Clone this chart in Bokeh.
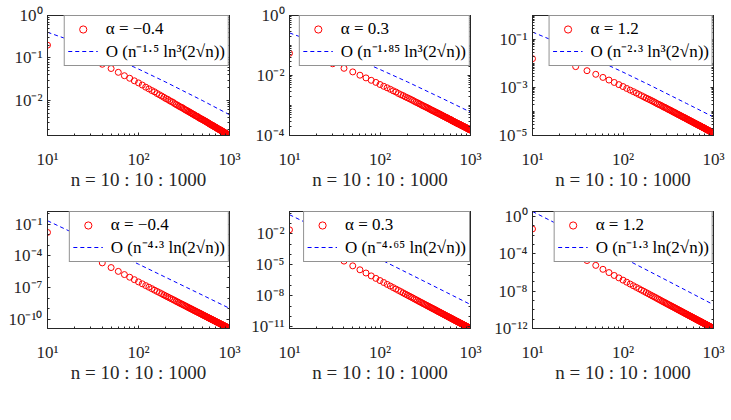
from bokeh.plotting import figure
from bokeh.models import Range1d, FixedTicker, CustomJSTickFormatter, LogAxis
from bokeh.layouts import column, row
from bokeh.embed import file_html
from bokeh.resources import INLINE

# ---------------- data (log10 of the plotted values) ----------------
n_values = list(range(10, 1001, 10))          # n = 10:10:1000
dash_n = [10, 20, 50, 100, 200, 500, 1000]

alpha_labels = ["α = −0.4", "α = 0.3", "α = 1.2", "α = −0.4", "α = 0.3", "α = 1.2"]
order_labels = ["O (n⁻¹·⁵ ln³(2√n))", "O (n⁻¹·⁸⁵ ln³(2√n))", "O (n⁻²·³ ln³(2√n))",
                "O (n⁻⁴·³ ln(2√n))", "O (n⁻⁴·⁶⁵ ln(2√n))", "O (n⁻¹·³ ln(2√n))"]
x_label = "n = 10 : 10 : 1000"

err1_log = [-0.70, -0.87, -1.03, -1.15, -1.25, -1.34, -1.42, -1.48, -1.54, -1.59,
            -1.64, -1.69, -1.73, -1.77, -1.80, -1.84, -1.87, -1.90, -1.93, -1.96,
            -1.98, -2.01, -2.03, -2.05, -2.08, -2.10, -2.12, -2.14, -2.16, -2.17,
            -2.19, -2.21, -2.23, -2.24, -2.26, -2.27, -2.29, -2.30, -2.32, -2.33,
            -2.34, -2.36, -2.37, -2.38, -2.39, -2.41, -2.42, -2.43, -2.44, -2.45,
            -2.46, -2.47, -2.48, -2.49, -2.50, -2.51, -2.52, -2.53, -2.54, -2.55,
            -2.56, -2.57, -2.58, -2.59, -2.59, -2.60, -2.61, -2.62, -2.63, -2.63,
            -2.64, -2.65, -2.66, -2.67, -2.67, -2.68, -2.69, -2.69, -2.70, -2.71,
            -2.71, -2.72, -2.73, -2.73, -2.74, -2.75, -2.75, -2.76, -2.77, -2.77,
            -2.78, -2.78, -2.79, -2.80, -2.80, -2.81, -2.81, -2.82, -2.82, -2.83]
err2_log = [-1.26, -1.43, -1.61, -1.76, -1.88, -1.99, -2.08, -2.16, -2.23, -2.30,
            -2.36, -2.41, -2.46, -2.51, -2.55, -2.60, -2.64, -2.67, -2.71, -2.74,
            -2.77, -2.80, -2.83, -2.86, -2.89, -2.91, -2.94, -2.96, -2.99, -3.01,
            -3.03, -3.05, -3.07, -3.09, -3.11, -3.13, -3.15, -3.17, -3.18, -3.20,
            -3.22, -3.23, -3.25, -3.26, -3.28, -3.29, -3.31, -3.32, -3.34, -3.35,
            -3.36, -3.38, -3.39, -3.40, -3.41, -3.43, -3.44, -3.45, -3.46, -3.47,
            -3.48, -3.50, -3.51, -3.52, -3.53, -3.54, -3.55, -3.56, -3.57, -3.58,
            -3.59, -3.60, -3.61, -3.62, -3.62, -3.63, -3.64, -3.65, -3.66, -3.67,
            -3.68, -3.68, -3.69, -3.70, -3.71, -3.72, -3.72, -3.73, -3.74, -3.75,
            -3.75, -3.76, -3.77, -3.78, -3.78, -3.79, -3.80, -3.81, -3.81, -3.82]
err3_log = [-1.80, -1.93, -2.13, -2.30, -2.45, -2.58, -2.69, -2.79, -2.88, -2.96,
            -3.04, -3.11, -3.17, -3.23, -3.29, -3.34, -3.39, -3.44, -3.48, -3.52,
            -3.56, -3.60, -3.64, -3.68, -3.71, -3.74, -3.77, -3.81, -3.83, -3.86,
            -3.89, -3.92, -3.94, -3.97, -3.99, -4.02, -4.04, -4.06, -4.09, -4.11,
            -4.13, -4.15, -4.17, -4.19, -4.21, -4.23, -4.25, -4.26, -4.28, -4.30,
            -4.32, -4.33, -4.35, -4.37, -4.38, -4.40, -4.41, -4.43, -4.44, -4.46,
            -4.47, -4.49, -4.50, -4.51, -4.53, -4.54, -4.55, -4.57, -4.58, -4.59,
            -4.60, -4.61, -4.63, -4.64, -4.65, -4.66, -4.67, -4.68, -4.69, -4.71,
            -4.72, -4.73, -4.74, -4.75, -4.76, -4.77, -4.78, -4.79, -4.80, -4.81,
            -4.82, -4.83, -4.84, -4.85, -4.86, -4.86, -4.87, -4.88, -4.89, -4.90]
err4_log = [-1.79, -3.27, -4.09, -4.66, -5.10, -5.46, -5.76, -6.01, -6.24, -6.45,
            -6.63, -6.80, -6.95, -7.09, -7.23, -7.35, -7.46, -7.57, -7.68, -7.78,
            -7.87, -7.96, -8.04, -8.12, -8.20, -8.28, -8.35, -8.42, -8.49, -8.55,
            -8.61, -8.67, -8.73, -8.79, -8.84, -8.90, -8.95, -9.00, -9.05, -9.10,
            -9.15, -9.19, -9.24, -9.28, -9.32, -9.36, -9.40, -9.44, -9.48, -9.52,
            -9.56, -9.60, -9.63, -9.67, -9.70, -9.74, -9.77, -9.80, -9.84, -9.87,
            -9.90, -9.93, -9.96, -9.99, -10.02, -10.05, -10.08, -10.11, -10.13, -10.16,
            -10.19, -10.22, -10.24, -10.27, -10.29, -10.32, -10.34, -10.37, -10.39, -10.42,
            -10.44, -10.46, -10.49, -10.51, -10.53, -10.55, -10.58, -10.60, -10.62, -10.64,
            -10.66, -10.68, -10.70, -10.72, -10.74, -10.76, -10.78, -10.80, -10.82, -10.84]
err5_log = [-1.62, -3.17, -4.04, -4.64, -5.10, -5.48, -5.79, -6.07, -6.31, -6.52,
            -6.71, -6.89, -7.05, -7.20, -7.34, -7.47, -7.59, -7.71, -7.82, -7.92,
            -8.02, -8.11, -8.20, -8.29, -8.37, -8.45, -8.53, -8.60, -8.67, -8.74,
            -8.80, -8.87, -8.93, -8.99, -9.05, -9.10, -9.16, -9.21, -9.26, -9.31,
            -9.36, -9.41, -9.46, -9.51, -9.55, -9.59, -9.64, -9.68, -9.72, -9.76,
            -9.80, -9.84, -9.88, -9.92, -9.95, -9.99, -10.02, -10.06, -10.09, -10.13,
            -10.16, -10.19, -10.22, -10.26, -10.29, -10.32, -10.35, -10.38, -10.41, -10.44,
            -10.46, -10.49, -10.52, -10.55, -10.57, -10.60, -10.63, -10.65, -10.68, -10.70,
            -10.73, -10.75, -10.78, -10.80, -10.82, -10.85, -10.87, -10.89, -10.92, -10.94,
            -10.96, -10.98, -11.00, -11.03, -11.05, -11.07, -11.09, -11.11, -11.13, -11.15]
err6_log = [-1.34, -3.08, -4.05, -4.72, -5.24, -5.66, -6.01, -6.32, -6.58, -6.82,
            -7.04, -7.24, -7.42, -7.59, -7.74, -7.89, -8.02, -8.15, -8.27, -8.39,
            -8.50, -8.60, -8.70, -8.80, -8.89, -8.98, -9.07, -9.15, -9.23, -9.30,
            -9.38, -9.45, -9.52, -9.58, -9.65, -9.71, -9.77, -9.83, -9.89, -9.95,
            -10.00, -10.06, -10.11, -10.16, -10.21, -10.26, -10.31, -10.36, -10.40, -10.45,
            -10.49, -10.54, -10.58, -10.62, -10.66, -10.70, -10.74, -10.78, -10.82, -10.86,
            -10.89, -10.93, -10.97, -11.00, -11.04, -11.07, -11.10, -11.14, -11.17, -11.20,
            -11.23, -11.26, -11.29, -11.33, -11.36, -11.39, -11.41, -11.44, -11.47, -11.50,
            -11.53, -11.56, -11.58, -11.61, -11.64, -11.66, -11.69, -11.71, -11.74, -11.76,
            -11.79, -11.81, -11.84, -11.86, -11.88, -11.91, -11.93, -11.95, -11.98, -12.00]

bound1_log = [-0.395, -0.622, -0.972, -1.263, -1.572, -2.002, -2.340]
bound2_log = [-0.58, -0.91, -1.40, -1.80, -2.21, -2.78, -3.22]
bound3_log = [-0.69, -1.16, -1.83, -2.36, -2.91, -3.66, -4.23]
bound4_log = [-0.69, -1.91, -3.54, -4.78, -6.03, -7.68, -8.94]
bound5_log = [-0.16, -1.44, -3.16, -4.46, -5.77, -7.51, -8.83]
bound6_log = [0.53, -0.95, -2.92, -4.43, -5.93, -7.93, -9.45]

# y-axis limits (log10) and labelled decades
ylims = [(-2.83, 0.0), (-4.0, 0.0), (-5.0, 0.0), (-10.84, 0.18), (-11.15, 0.15), (-12.0, 0.53)]
ymajor_exp = [[0, -1, -2], [0, -2, -4], [-1, -3, -5],
              [-1, -4, -7, -10], [-2, -5, -8, -11], [0, -4, -8, -12]]

INK = "#262626"
FONT = "Liberation Serif"

sup_js = """
const e = Math.round(Math.log10(tick));
const m = {"-":"\\u207b","0":"\\u2070","1":"\\u00b9","2":"\\u00b2","3":"\\u00b3","4":"\\u2074",
           "5":"\\u2075","6":"\\u2076","7":"\\u2077","8":"\\u2078","9":"\\u2079"};
return "10" + String(e).split("").map(c => m[c]).join("");
"""


def minor_list(lo, hi, fine):
    out = []
    for d in range(int(lo) - 2, int(hi) + 2):
        mults = range(1, 10) if fine else [1]
        for m in mults:
            v = m * 10.0 ** d
            if 10 ** lo <= v <= 10 ** hi:
                out.append(v)
    return out


def style_axis(ax):
    ax.axis_line_color = INK
    ax.major_tick_line_color = INK
    ax.minor_tick_line_color = INK
    ax.major_tick_in = 3
    ax.major_tick_out = 0
    ax.minor_tick_in = 2
    ax.minor_tick_out = 0
    ax.major_label_text_color = INK
    ax.major_label_text_font = FONT
    ax.major_label_text_font_size = "17px"


def mirror_axis(ticker):
    ax = LogAxis(ticker=ticker, formatter=CustomJSTickFormatter(code='return "";'))
    style_axis(ax)
    ax.major_label_text_font_size = "1px"
    ax.major_label_standoff = 0
    ax.major_label_text_alpha = 0
    return ax


def make_panel(idx, pts_log, bound_log, bl, br, bt, bb, fw, fh, fine):
    ylo, yhi = ylims[idx]
    p = figure(x_axis_type="log", y_axis_type="log",
               x_range=Range1d(10, 1000), y_range=Range1d(10 ** ylo, 10 ** yhi),
               frame_width=fw, frame_height=fh,
               min_border_left=bl, min_border_right=br,
               min_border_top=bt, min_border_bottom=bb,
               output_backend="svg", toolbar_location=None)
    p.xgrid.visible = False
    p.ygrid.visible = False
    p.outline_line_color = INK
    p.background_fill_color = "white"
    p.border_fill_color = "white"

    p.scatter(n_values, [10 ** v for v in pts_log], marker="circle", size=6,
              line_color="#ff0000", fill_color=None, line_width=1,
              legend_label=alpha_labels[idx])
    p.line(dash_n, [10 ** v for v in bound_log], line_color="#0000ff",
           line_dash="4 3", line_width=1, legend_label=order_labels[idx])

    x_minor = [20, 30, 40, 50, 60, 70, 80, 90, 200, 300, 400, 500, 600, 700, 800, 900]
    xt = FixedTicker(ticks=[10, 100, 1000], minor_ticks=x_minor)
    yt = FixedTicker(ticks=[10.0 ** e for e in ymajor_exp[idx]],
                     minor_ticks=minor_list(ylo, yhi, fine))

    xa = p.xaxis[0]
    xa.ticker = xt
    xa.formatter = CustomJSTickFormatter(code=sup_js)
    style_axis(xa)
    xa.major_label_standoff = 14
    xa.axis_label = x_label
    xa.axis_label_text_font = FONT
    xa.axis_label_text_font_style = "normal"
    xa.axis_label_text_font_size = "19px"
    xa.axis_label_text_color = INK
    xa.axis_label_standoff = -3

    ya = p.yaxis[0]
    ya.ticker = yt
    ya.formatter = CustomJSTickFormatter(code=sup_js)
    style_axis(ya)
    ya.major_label_standoff = 5

    p.add_layout(mirror_axis(xt), "above")
    p.add_layout(mirror_axis(yt), "right")

    lg = p.legend[0]
    lg.location = "top_right"
    lg.margin = 0
    lg.padding = 3
    lg.spacing = 0
    lg.label_standoff = 8
    lg.glyph_width = 30
    lg.glyph_height = 18
    lg.label_height = 18
    lg.border_line_color = INK
    lg.border_line_width = 1
    lg.background_fill_alpha = 1.0
    lg.label_text_font = FONT
    lg.label_text_font_size = "17px"
    lg.label_text_color = "black"
    return p


p1 = make_panel(0, err1_log, bound1_log, 47, 15, 15, 63, 182, 120, True)
p2 = make_panel(1, err2_log, bound2_log, 45, 15, 15, 63, 181, 120, True)
p3 = make_panel(2, err3_log, bound3_log, 47, 18, 15, 63, 181, 120, True)
p4 = make_panel(3, err4_log, bound4_log, 47, 15, 13, 92, 182, 117, False)
p5 = make_panel(4, err5_log, bound5_log, 45, 15, 13, 92, 181, 117, False)
p6 = make_panel(5, err6_log, bound6_log, 47, 18, 13, 92, 181, 117, False)

layout = column(row(p1, p2, p3), row(p4, p5, p6))

with open("out.html", "w") as f:
    f.write(file_html(layout, INLINE))
